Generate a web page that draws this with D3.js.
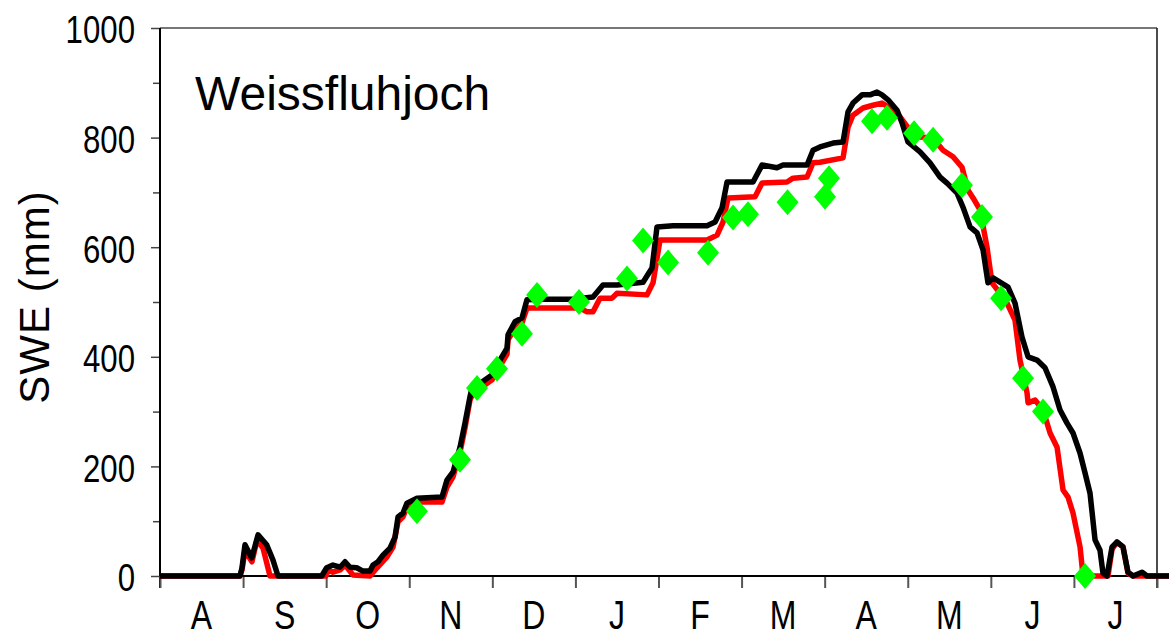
<!DOCTYPE html>
<html>
<head>
<meta charset="utf-8">
<script src="https://cdn.jsdelivr.net/npm/d3@7"></script>
<style>
  body { margin: 0; background: #fff; }
  svg text { font-family: Arial, "Liberation Sans", sans-serif; }
</style>
</head>
<body>
<div id="chart"></div>
<script>
// month letters, Aug .. Jul
let monthLabels = ["A", "S", "O", "N", "D", "J", "F", "M", "A", "M", "J", "J"];
let yMajor = [0, 200, 400, 600, 800, 1000];
let yMinor = [100, 300, 500, 700, 900];

// [month index from 1 Aug, SWE mm]
let modelRed = [
  [0, 0], [0.963, 0], [0.987, 11], [1.023, 47], [1.107, 26], [1.168, 66], [1.24, 51], [1.324, 0],
  [1.998, 0], [2.022, 11], [2.082, 7], [2.167, 11], [2.227, 20], [2.323, 2], [2.528, 0],
  [2.612, 15], [2.732, 35], [2.805, 53], [2.865, 99], [2.925, 108], [2.973, 126], [3.033, 135],
  [3.394, 135], [3.454, 162], [3.527, 181], [3.611, 226], [3.671, 270], [3.731, 321], [3.767, 334],
  [3.876, 345], [3.996, 358], [4.092, 383], [4.177, 405], [4.189, 431], [4.273, 453], [4.357, 462],
  [4.417, 489], [5.055, 489], [5.14, 482], [5.212, 482], [5.296, 507], [5.441, 507], [5.501, 516],
  [5.862, 513], [5.934, 535], [6.018, 613], [6.584, 613], [6.705, 622], [6.777, 646], [6.837, 690],
  [7.162, 692], [7.246, 717], [7.547, 719], [7.619, 726], [7.788, 728], [7.86, 754], [7.944, 755],
  [8.221, 763], [8.281, 819], [8.341, 841], [8.462, 854], [8.582, 859], [8.69, 863], [8.787, 854],
  [8.907, 838], [9.003, 818], [9.148, 801], [9.304, 799], [9.425, 777], [9.545, 765], [9.653, 746],
  [9.726, 704], [9.786, 690], [9.87, 668], [9.954, 600], [10.014, 535], [10.111, 516], [10.195, 498],
  [10.291, 467], [10.351, 394], [10.436, 334], [10.448, 316], [10.532, 321], [10.628, 303],
  [10.713, 261], [10.797, 235], [10.869, 157], [10.929, 144], [10.989, 115], [11.074, 53], [11.11, 0],
  [11.41, 0], [11.459, 49], [11.519, 62], [11.591, 53], [11.651, 5], [11.712, 0], [12.145, 0]
];

let modelBlack = [
  [0, 0], [0.939, 0], [0.963, 0], [0.987, 15], [1.023, 57], [1.104, 33], [1.18, 75], [1.284, 57],
  [1.36, 29], [1.42, 0], [1.946, 0], [2.006, 15], [2.082, 20], [2.167, 16], [2.227, 26], [2.287, 16],
  [2.368, 15], [2.443, 9], [2.528, 9], [2.564, 20], [2.624, 26], [2.684, 38], [2.768, 51], [2.829, 71],
  [2.865, 108], [2.925, 115], [2.973, 133], [3.093, 142], [3.394, 144], [3.454, 175], [3.527, 190],
  [3.611, 235], [3.671, 279], [3.731, 327], [3.755, 343], [3.876, 354], [3.996, 367], [4.092, 394],
  [4.177, 416], [4.189, 440], [4.273, 464], [4.357, 471], [4.417, 504], [4.574, 505], [4.971, 505],
  [5.212, 509], [5.332, 531], [5.501, 531], [5.814, 536], [5.922, 562], [5.982, 637], [6.175, 639],
  [6.584, 639], [6.681, 646], [6.765, 672], [6.825, 719], [7.138, 719], [7.246, 750], [7.426, 745],
  [7.499, 750], [7.788, 750], [7.86, 777], [7.944, 783], [8.101, 790], [8.221, 792], [8.281, 847],
  [8.341, 863], [8.45, 878], [8.546, 878], [8.63, 883], [8.69, 878], [8.763, 869], [8.871, 850],
  [8.931, 827], [9.003, 792], [9.148, 774], [9.268, 754], [9.389, 728], [9.473, 717], [9.593, 699],
  [9.665, 673], [9.75, 637], [9.834, 626], [9.906, 595], [9.966, 535], [10.026, 544], [10.207, 527],
  [10.291, 498], [10.375, 436], [10.448, 400], [10.556, 394], [10.652, 380], [10.749, 345],
  [10.833, 303], [10.917, 279], [10.989, 261], [11.074, 224], [11.134, 188], [11.194, 151],
  [11.254, 66], [11.314, 47], [11.35, 5], [11.398, 0], [11.459, 53], [11.519, 62], [11.591, 53],
  [11.651, 7], [11.712, 0], [11.82, 7], [11.88, 0], [12.145, 0]
];

let observed = [
  [3.093, 118], [3.611, 212], [3.816, 343], [4.056, 378], [4.357, 442], [4.538, 513], [5.043, 500],
  [5.621, 543], [5.814, 612], [6.115, 572], [6.596, 590], [6.897, 654], [7.077, 660], [7.553, 682],
  [8.004, 692], [8.052, 726], [8.57, 830], [8.75, 836], [9.076, 808], [9.305, 796], [9.653, 713],
  [9.894, 655], [10.123, 507], [10.388, 361], [10.628, 300], [11.134, 0]
];

let width = 1169, height = 637;
let margin = {left: 160, right: 12, top: 28, bottom: 61};

let svg = d3.select("#chart")
  .append("svg")
  .attr("width", width)
  .attr("height", height);

let x = d3.scaleLinear().domain([0, 12]).range([margin.left, 1157]);
let y = d3.scaleLinear().domain([0, 1000]).range([height - margin.bottom, margin.top]);

// frame: top and right
svg.append("line")
  .attr("x1", x(0)).attr("x2", x(12))
  .attr("y1", y(1000)).attr("y2", y(1000))
  .attr("stroke", "#777").attr("stroke-width", 2);
svg.append("line")
  .attr("x1", x(12)).attr("x2", x(12))
  .attr("y1", y(1000)).attr("y2", y(0) + 12)
  .attr("stroke", "#111").attr("stroke-width", 1.5);

// y axis minor ticks
svg.append("g")
  .attr("transform", `translate(${margin.left},0)`)
  .call(d3.axisLeft(y).tickValues(yMinor).tickSize(7).tickFormat(""))
  .call(g => g.select(".domain").remove())
  .selectAll("line").attr("stroke", "#444").attr("stroke-width", 1.5);

// y axis major
let yAxis = svg.append("g")
  .attr("transform", `translate(${margin.left},0)`)
  .call(d3.axisLeft(y).tickValues(yMajor).tickFormat(d3.format("d")).tickSize(9).tickSizeOuter(0).tickPadding(0));
yAxis.select(".domain").remove();
yAxis.selectAll("line").attr("stroke", "#444").attr("stroke-width", 1.5);
yAxis.selectAll("text")
  .attr("x", null)
  .attr("dy", null)
  .attr("dominant-baseline", "central")
  .attr("transform", "translate(-25,1) scale(0.8,1)")
  .style("font-size", "39px")
  .style("fill", "#000");

// left axis line
svg.append("line")
  .attr("x1", margin.left).attr("x2", margin.left)
  .attr("y1", y(1000)).attr("y2", y(0) + 12)
  .attr("stroke", "#000").attr("stroke-width", 2);

// x axis ticks at month boundaries
let xAxis = svg.append("g")
  .attr("transform", `translate(0,${y(0)})`)
  .call(d3.axisBottom(x).tickValues(d3.range(13)).tickSize(12).tickFormat(""));
xAxis.select(".domain").remove();
xAxis.selectAll("line").attr("stroke", "#555").attr("stroke-width", 2);

svg.append("line")
  .attr("x1", margin.left).attr("x2", width)
  .attr("y1", y(0)).attr("y2", y(0))
  .attr("stroke", "#000").attr("stroke-width", 2);

// month letters
svg.append("g").selectAll("text")
  .data(monthLabels)
  .enter()
  .append("text")
  .attr("transform", (d, i) => `translate(${x(i + 0.5)},629) scale(0.8,1)`)
  .attr("text-anchor", "middle")
  .style("font-size", "40px")
  .text(d => d);

// lines
let line = d3.line()
  .x(d => x(d[0]))
  .y(d => y(d[1]));

svg.append("path")
  .datum(modelRed)
  .attr("d", line)
  .attr("fill", "none")
  .attr("stroke", "#ff0000")
  .attr("stroke-width", 5.5)
  .attr("stroke-linejoin", "round");

svg.append("path")
  .datum(modelBlack)
  .attr("d", line)
  .attr("fill", "none")
  .attr("stroke", "#000")
  .attr("stroke-width", 5.5)
  .attr("stroke-linejoin", "round");

// observations as green diamonds
svg.append("g").selectAll("path")
  .data(observed)
  .enter()
  .append("path")
  .attr("transform", d => `translate(${x(d[0])},${y(d[1])})`)
  .attr("d", "M0,-13L11,0L0,13L-11,0Z")
  .attr("fill", "#00ff00");

// station name
svg.append("text")
  .attr("x", 195)
  .attr("y", 110)
  .style("font-size", "48px")
  .text("Weissfluhjoch");

// y label
svg.append("text")
  .attr("transform", "translate(49,297) rotate(-90)")
  .attr("text-anchor", "middle")
  .style("font-size", "42px")
  .style("letter-spacing", "1px")
  .text("SWE (mm)");
</script>
</body>
</html>
